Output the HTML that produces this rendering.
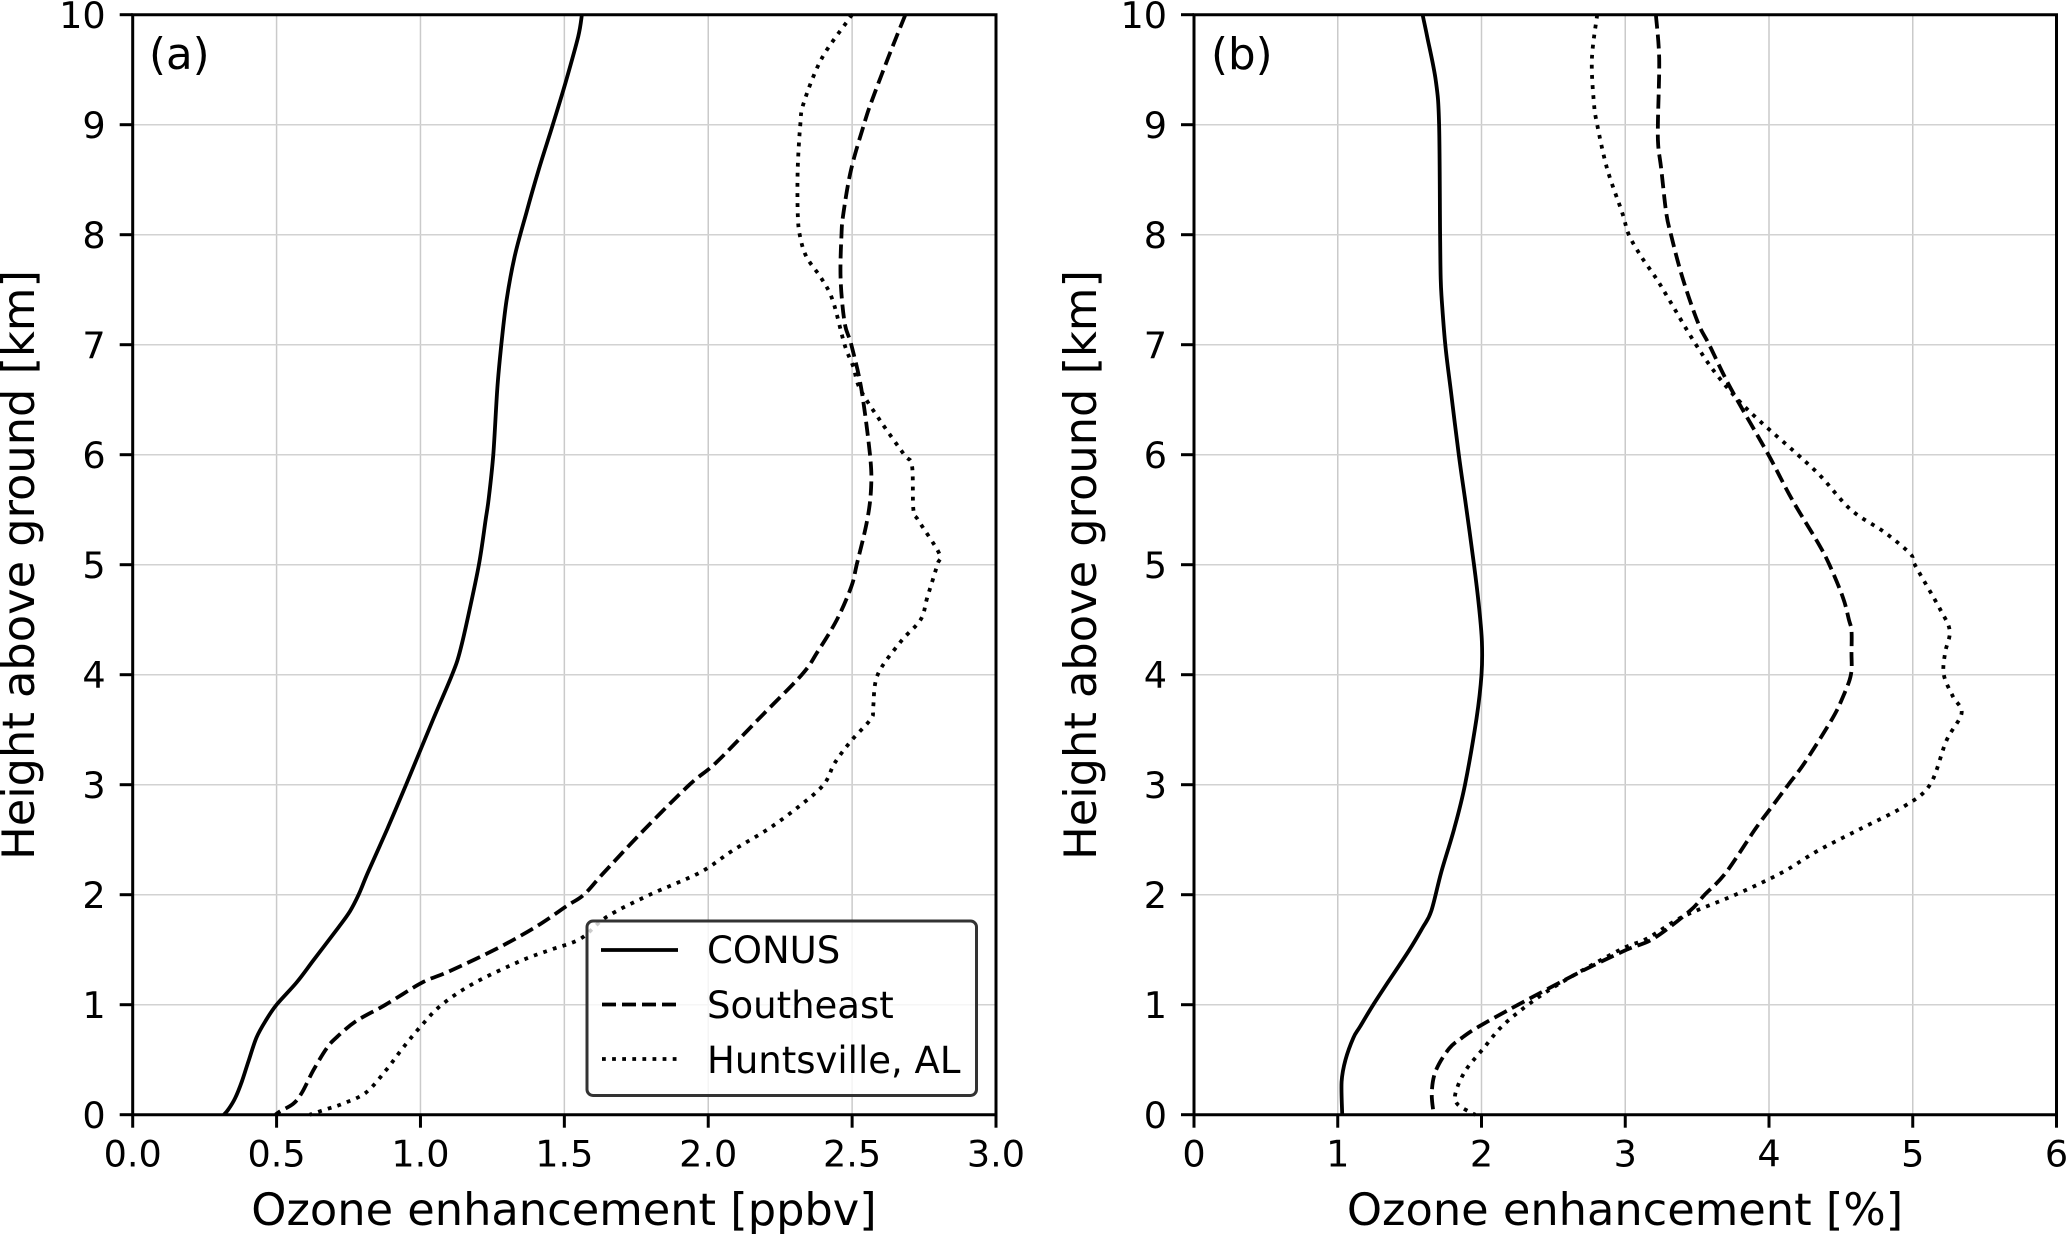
<!DOCTYPE html>
<html lang="en">
<head>
<meta charset="utf-8">
<title>Ozone enhancement profiles</title>
<style>
html,body{margin:0;padding:0;background:#fff;width:2067px;height:1234px;overflow:hidden}
svg{display:block}
text{font-family:"DejaVu Sans","Liberation Sans",sans-serif;fill:#000}
.tick{font-size:36.6px}
.legend-text{font-size:37px}
.title{font-size:44.7px}
.panel-label{font-size:43.5px}
</style>
</head>
<body>
<svg id="fig" xmlns="http://www.w3.org/2000/svg" width="2067" height="1234" viewBox="0 0 2067 1234">
  <rect x="0" y="0" width="2067" height="1234" fill="#fff"/>
  <g id="panelA"></g>
  <g id="panelB"></g>
  <text class="panel-label" x="149" y="69">(a)</text>
  <text class="panel-label" x="1211" y="69">(b)</text>
  <text class="title" x="564" y="1225" text-anchor="middle">Ozone enhancement [ppbv]</text>
  <text class="title" x="1625" y="1225" text-anchor="middle">Ozone enhancement [%]</text>
  <text class="title" transform="translate(34 565) rotate(-90)" text-anchor="middle">Height above ground [km]</text>
  <text class="title" transform="translate(1096 565) rotate(-90)" text-anchor="middle">Height above ground [km]</text>
  <g>
    <rect x="587" y="921" width="389.5" height="174.5" rx="6" ry="6" fill="#fff" fill-opacity="0.8" stroke="#333" stroke-width="3"/>
    <line x1="601" x2="678" y1="950" y2="950" stroke="#000" stroke-width="3.8"/>
    <text class="legend-text" x="707" y="963">CONUS</text>
    <line x1="602" x2="677" y1="1004.5" y2="1004.5" stroke="#000" stroke-width="3.8" stroke-dasharray="14 6"/>
    <text class="legend-text" x="707" y="1018">Southeast</text>
    <line x1="602" x2="677" y1="1059" y2="1059" stroke="#000" stroke-width="3.8" stroke-dasharray="3.8 6.3"/>
    <text class="legend-text" x="707" y="1073">Huntsville, AL</text>
  </g>
</svg>
<script>
const heightTicks = [0,1,2,3,4,5,6,7,8,9,10];
const ppbvTicks = [0,0.5,1,1.5,2,2.5,3];
const ppbvTickLabels = ["0.0","0.5","1.0","1.5","2.0","2.5","3.0"];
const pctTicks = [0,1,2,3,4,5,6];
const pctTickLabels = ["0","1","2","3","4","5","6"];

const conusHeightsA = [10,9.8,9.4,9,8.6,8.2,7.8,7.4,7,6.6,6,5.6,5.4,5,4.5,4.2,4,3.6,3,2.6,2.2,2,1.85,1.7,1.4,1.2,1,0.85,0.7,0.5,0.3,0.15,0.05,0];
const conusValuesA = [1.561,1.548,1.506,1.46,1.412,1.368,1.327,1.299,1.281,1.267,1.253,1.237,1.226,1.203,1.163,1.136,1.11,1.045,0.95,0.885,0.817,0.785,0.755,0.714,0.627,0.569,0.5,0.461,0.43,0.404,0.379,0.356,0.333,0.317];

const southeastHeightsA = [10,9.6,9.2,9,8.6,8.2,8,7.6,7.2,7,6.6,6,5.7,5.4,5,4.8,4.5,4.2,4,3.6,3.2,3,2.6,2.2,2,1.9,1.7,1.5,1.3,1.2,1,0.85,0.7,0.6,0.4,0.2,0.1,0.03,0];
const southeastValuesA = [2.685,2.624,2.566,2.541,2.497,2.47,2.463,2.46,2.474,2.497,2.532,2.562,2.566,2.552,2.516,2.497,2.447,2.378,2.325,2.176,2.027,1.935,1.781,1.637,1.568,1.51,1.396,1.258,1.097,1.005,0.879,0.776,0.707,0.673,0.627,0.588,0.558,0.512,0.496];

const huntsvilleHeightsA = [10,9.95,9.6,9.2,9,8.6,8.2,8,7.8,7.6,7.4,7,6.8,6.6,6.3,6,5.9,5.5,5.4,5.1,5,4.7,4.5,4.3,4,3.7,3.6,3.4,3.2,3,2.8,2.6,2.4,2.2,2,1.8,1.6,1.5,1.4,1.2,1,0.8,0.6,0.4,0.2,0.1,0.05,0];
const huntsvilleValuesA = [2.5,2.486,2.394,2.332,2.32,2.311,2.311,2.318,2.341,2.394,2.433,2.474,2.504,2.527,2.6,2.681,2.708,2.713,2.731,2.803,2.796,2.761,2.738,2.669,2.589,2.573,2.566,2.497,2.44,2.401,2.314,2.21,2.084,1.97,1.797,1.648,1.556,1.453,1.35,1.189,1.074,1,0.937,0.879,0.81,0.73,0.673,0.615];

const conusHeightsB = [10,9.8,9.4,9,8,7.6,7.4,7,6.6,6,5.6,5,4.6,4.3,4,3.6,3,2.6,2.2,1.85,1.7,1.5,1.2,1,0.8,0.7,0.5,0.3,0];
const conusValuesB = [1.59,1.622,1.682,1.705,1.712,1.716,1.724,1.748,1.785,1.842,1.885,1.948,1.984,2.003,2.0,1.965,1.885,1.81,1.719,1.65,1.59,1.499,1.347,1.247,1.155,1.109,1.054,1.027,1.031];

const southeastHeightsB = [10,9.6,9,8.8,8.6,8.2,8,7.6,7.2,7,6.6,6,5.6,5.2,5,4.7,4.5,4.4,4.2,4,3.8,3.6,3.2,3,2.8,2.6,2.2,2,1.85,1.6,1.5,1.3,1,0.8,0.7,0.6,0.4,0.2,0];
const southeastValuesB = [3.213,3.236,3.227,3.23,3.25,3.285,3.318,3.4,3.506,3.584,3.735,3.996,4.157,4.34,4.42,4.515,4.556,4.574,4.574,4.57,4.515,4.44,4.248,4.134,4.02,3.906,3.7,3.553,3.447,3.195,3.01,2.69,2.255,1.98,1.865,1.774,1.682,1.654,1.668];

const huntsvilleHeightsB = [10,9.6,9.2,9,8.6,8.2,8,7.8,7.6,7.4,7,6.7,6.4,6,5.8,5.5,5.3,5.1,5,4.6,4.4,4.2,4,3.8,3.65,3.4,3,2.8,2.6,2.4,2.2,2,1.8,1.6,1.5,1.2,1,0.8,0.6,0.4,0.2,0.1,0.03,0];
const huntsvilleValuesB = [2.805,2.768,2.782,2.805,2.874,2.979,3.025,3.112,3.217,3.309,3.492,3.653,3.859,4.2,4.363,4.569,4.798,4.982,5.014,5.188,5.257,5.225,5.216,5.28,5.34,5.234,5.12,4.936,4.638,4.34,4.088,3.767,3.4,3.15,2.965,2.553,2.324,2.14,2.012,1.888,1.82,1.83,1.91,1.957];

const NS = "http://www.w3.org/2000/svg";
const yTop = 14.7, yBottom = 1114.7, tickLen = 13;

function make(tag, attrs, parent) {
  const el = document.createElementNS(NS, tag);
  for (const k in attrs) el.setAttribute(k, attrs[k]);
  parent.appendChild(el);
  return el;
}
function yScale(h) { return yBottom - (h / 10) * (yBottom - yTop); }

function smoothPath(p) {
  let d = "M" + p[0][0].toFixed(1) + " " + p[0][1].toFixed(1);
  for (let i = 0; i < p.length - 1; i++) {
    const a = p[Math.max(i - 1, 0)], b = p[i], c = p[i + 1], e = p[Math.min(i + 2, p.length - 1)];
    const c1x = b[0] + (c[0] - a[0]) / 6, c1y = b[1] + (c[1] - a[1]) / 6;
    const c2x = c[0] - (e[0] - b[0]) / 6, c2y = c[1] - (e[1] - b[1]) / 6;
    d += "C" + [c1x, c1y, c2x, c2y, c[0], c[1]].map(n => n.toFixed(1)).join(" ");
  }
  return d;
}

function drawPanel(root, prefix, left, right, xMax, xTicks, xLabels, series) {
  const xScale = v => left + (v / xMax) * (right - left);

  xTicks.forEach(t => {
    const x = xScale(t);
    const g = make("line", {x1:x, x2:x, y1:yTop, y2:yBottom, stroke:"#cacaca", "stroke-width":1.5}, root);
    
    
  });
  heightTicks.forEach(t => {
    const y = yScale(t);
    const g = make("line", {x1:left, x2:right, y1:y, y2:y, stroke:"#d2d2d2", "stroke-width":1.5}, root);
    
    
  });

  series.forEach(s => {
    const pts = s.values.map((v, i) => [xScale(v), yScale(s.heights[i])]);
    const attrs = {d:smoothPath(pts), fill:"none", stroke:"#000", "stroke-width":3.8, "stroke-linejoin":"round"};
    if (s.dash) attrs["stroke-dasharray"] = s.dash;
    const line = make("path", attrs, root);
    
    
  });

  const frame = make("path", {d:`M${left} ${yTop}H${right}V${yBottom}H${left}Z`, fill:"none", stroke:"#000", "stroke-width":3, "stroke-linecap":"square"}, root);
  
  

  xTicks.forEach((t, i) => {
    const x = xScale(t);
    const m = make("line", {x1:x, x2:x, y1:yBottom, y2:yBottom + tickLen, stroke:"#000", "stroke-width":3}, root);
    
    
    const lab = make("text", {x:x, y:1166.7, "text-anchor":"middle", class:"tick"}, root);
    lab.textContent = xLabels[i];
    
    
  });
  heightTicks.forEach(t => {
    const y = yScale(t);
    const m = make("line", {x1:left - tickLen, x2:left, y1:y, y2:y, stroke:"#000", "stroke-width":3}, root);
    
    
    const lab = make("text", {x:left - 27, y:y + 13.3, "text-anchor":"end", class:"tick"}, root);
    lab.textContent = String(t);
    
    
  });
}

drawPanel(document.getElementById("panelA"), "panel-a", 132.7, 996, 3, ppbvTicks, ppbvTickLabels, [
  {name:"conus", heights:conusHeightsA, values:conusValuesA, dash:null},
  {name:"southeast", heights:southeastHeightsA, values:southeastValuesA, dash:"14 6"},
  {name:"huntsville", heights:huntsvilleHeightsA, values:huntsvilleValuesA, dash:"3.8 6.3"}
]);
drawPanel(document.getElementById("panelB"), "panel-b", 1194, 2056.5, 6, pctTicks, pctTickLabels, [
  {name:"conus", heights:conusHeightsB, values:conusValuesB, dash:null},
  {name:"southeast", heights:southeastHeightsB, values:southeastValuesB, dash:"14 6"},
  {name:"huntsville", heights:huntsvilleHeightsB, values:huntsvilleValuesB, dash:"3.8 6.3"}
]);
</script>
</body>
</html>
